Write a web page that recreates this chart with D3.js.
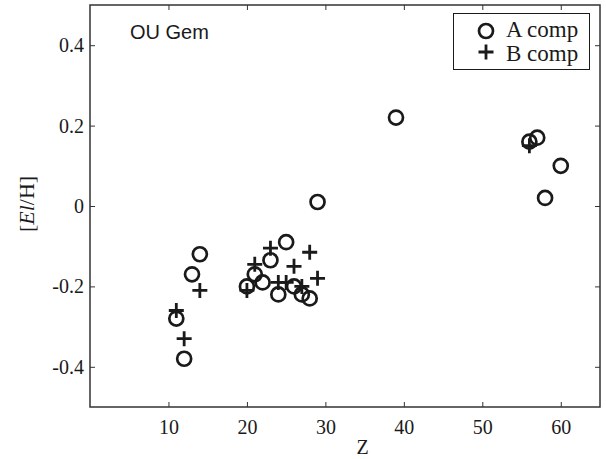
<!DOCTYPE html>
<html>
<head>
<meta charset="utf-8">
<script src="https://cdn.jsdelivr.net/npm/d3@7"></script>
<style>
  body { margin: 0; background: #fff; }
  svg { display: block; }
</style>
</head>
<body>
<svg id="viz"></svg>
<script>
let width = 606;
let height = 459;
let ink = "#1a1a1a";

// A component: atomic number and [El/H]
let aZ   = [11, 12, 13, 14, 20, 21, 22, 23, 24, 25, 26, 27, 28, 29, 39, 56, 57, 58, 60];
let aVal = [-0.28, -0.38, -0.17, -0.12, -0.20, -0.17, -0.19, -0.135, -0.22, -0.09, -0.20, -0.22, -0.23, 0.01, 0.22, 0.16, 0.17, 0.02, 0.10];

// B component
let bZ   = [11, 12, 14, 20, 21, 23, 24, 25, 26, 27, 28, 29, 56];
let bVal = [-0.26, -0.33, -0.21, -0.21, -0.145, -0.105, -0.19, -0.19, -0.15, -0.20, -0.115, -0.18, 0.15];

let xTicks = [10, 20, 30, 40, 50, 60];
let yTicks = [-0.4, -0.2, 0, 0.2, 0.4];
let legendLabels = ["A comp", "B comp"];

let plot = { left: 90, right: 600, top: 5, bottom: 407 };

let svg = d3.select("#viz")
    .attr("width", width)
    .attr("height", height);

let x = d3.scaleLinear().domain([0, 65]).range([plot.left, plot.right]);
let y = d3.scaleLinear().domain([-0.5, 0.5]).range([plot.bottom, plot.top]);

let serif = "'Liberation Serif', 'Times New Roman', serif";

// axes, ticks drawn inward on all four sides
let tickLen = 5;
let bottomAxis = d3.axisBottom(x).tickValues(xTicks).tickSize(-tickLen).tickPadding(13).tickFormat(d3.format("d"));
let topAxis = d3.axisTop(x).tickValues(xTicks).tickSize(-tickLen).tickFormat("");
let leftAxis = d3.axisLeft(y).tickValues(yTicks).tickSize(-tickLen).tickPadding(6)
    .tickFormat(d => d === 0 ? "0" : d3.format(".1f")(d).replace("−", "-"));
let rightAxis = d3.axisRight(y).tickValues(yTicks).tickSize(-tickLen).tickFormat("");

function styleAxis(g) {
    g.select(".domain").remove();
    g.selectAll(".tick line").attr("stroke", "#333").attr("stroke-width", 1);
    g.selectAll(".tick text")
        .attr("fill", ink)
        .style("font-family", serif)
        .style("font-size", "20px");
}

svg.append("g").attr("transform", `translate(0,${plot.bottom})`).call(bottomAxis).call(styleAxis);
svg.append("g").attr("transform", `translate(0,${plot.top})`).call(topAxis).call(styleAxis);
svg.append("g").attr("transform", `translate(${plot.left},0)`).call(leftAxis).call(styleAxis);
svg.append("g").attr("transform", `translate(${plot.right},0)`).call(rightAxis).call(styleAxis);

svg.append("rect")
    .attr("x", plot.left)
    .attr("y", plot.top)
    .attr("width", plot.right - plot.left)
    .attr("height", plot.bottom - plot.top)
    .attr("fill", "none")
    .attr("stroke", "#333")
    .attr("stroke-width", 1.5);

// axis labels
svg.append("text")
    .attr("x", x(35) - 2)
    .attr("y", 454)
    .attr("text-anchor", "middle")
    .attr("fill", ink)
    .style("font-family", serif)
    .style("font-size", "20px")
    .text("Z");

let yLab = svg.append("text")
    .attr("transform", `translate(34,${y(0) - 2}) rotate(-90)`)
    .attr("text-anchor", "middle")
    .attr("fill", ink)
    .style("font-family", serif)
    .style("font-size", "22px");
yLab.append("tspan").text("[");
yLab.append("tspan").style("font-style", "italic").text("El");
yLab.append("tspan").text("/H]");

// panel title
svg.append("text")
    .attr("x", 130)
    .attr("y", 39)
    .attr("fill", ink)
    .style("font-family", "'Liberation Sans', Arial, sans-serif")
    .style("font-size", "20px")
    .text("OU Gem");

let plusPath = "M-7.5,0H7.5M0,-7.5V7.5";

let aData = aZ.map((z, i) => ({ z: z, v: aVal[i] }));
let bData = bZ.map((z, i) => ({ z: z, v: bVal[i] }));

svg.append("g").selectAll("circle")
    .data(aData)
    .enter()
    .append("circle")
    .attr("cx", d => x(d.z))
    .attr("cy", d => y(d.v))
    .attr("r", 7)
    .attr("fill", "none")
    .attr("stroke", ink)
    .attr("stroke-width", 2.7);

svg.append("g").selectAll("path")
    .data(bData)
    .enter()
    .append("path")
    .attr("transform", d => `translate(${x(d.z)},${y(d.v)})`)
    .attr("d", plusPath)
    .attr("fill", "none")
    .attr("stroke", ink)
    .attr("stroke-width", 2.8);

// legend
let legend = svg.append("g");
legend.append("rect")
    .attr("x", 453.5)
    .attr("y", 13.5)
    .attr("width", 136)
    .attr("height", 56)
    .attr("fill", "#fff")
    .attr("stroke", ink)
    .attr("stroke-width", 1);

legend.append("circle")
    .attr("cx", 486).attr("cy", 31).attr("r", 7)
    .attr("fill", "none").attr("stroke", ink).attr("stroke-width", 2.7);
legend.append("path")
    .attr("transform", "translate(486,52)")
    .attr("d", plusPath)
    .attr("fill", "none").attr("stroke", ink).attr("stroke-width", 2.8);

legend.selectAll("text.lbl")
    .data(legendLabels)
    .enter()
    .append("text")
    .attr("class", "lbl")
    .attr("x", 506)
    .attr("y", (d, i) => i === 0 ? 37 : 61)
    .attr("fill", ink)
    .style("font-family", serif)
    .style("font-size", "23px")
    .text(d => d);
</script>
</body>
</html>
